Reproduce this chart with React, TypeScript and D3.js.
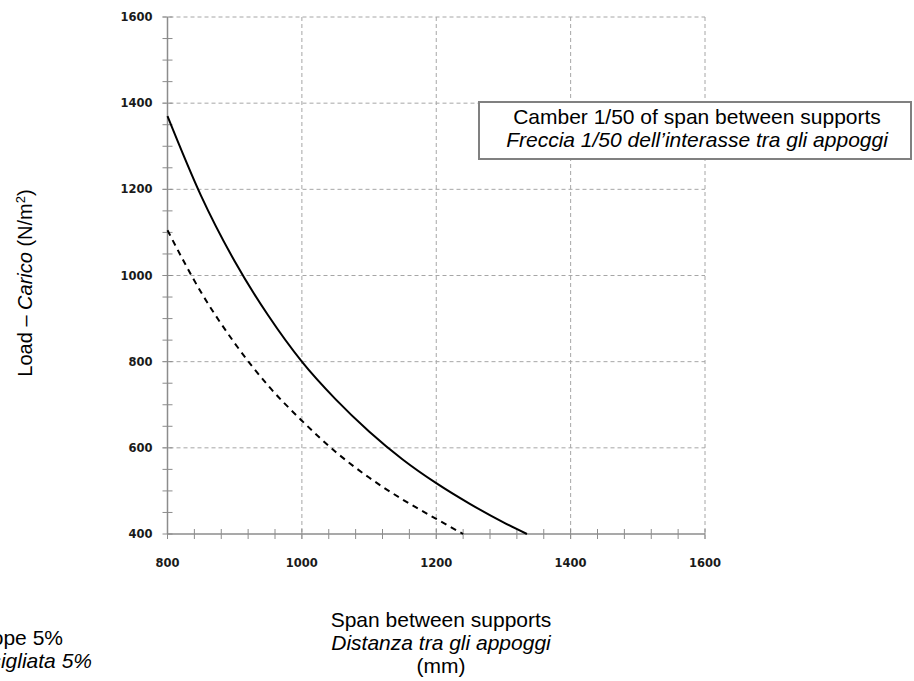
import React from "react";
import * as d3 from "d3";

const spanSolid = [800, 850, 900, 950, 1000, 1050, 1100, 1150, 1200, 1250, 1300, 1335];
const loadSolid = [1370, 1185, 1033, 907, 800, 713, 638, 573, 518, 470, 427, 400];
const spanDashed = [800, 850, 900, 950, 1000, 1050, 1100, 1150, 1200, 1240];
const loadDashed = [1105, 961, 843, 744, 663, 591, 531, 480, 435, 400];

const xMajor = [800, 1000, 1200, 1400, 1600];
const yMajor = [400, 600, 800, 1000, 1200, 1400, 1600];
const xMinorStep = 40;
const yMinorStep = 50;

const boxLine1 = "Camber 1/50 of span between supports";
const boxLine2 = "Freccia 1/50 dell\u2019interasse tra gli appoggi";
const xTitle = ["Span between supports", "Distanza tra gli appoggi", "(mm)"];
const legendLeft = ["Recommended slope 5%", "Pendenza consigliata 5%"];

const W = 914;
const H = 681;
const x0 = 167.5, x1 = 705;
const y0 = 534, y1 = 17;

export default function App() {
  const x = d3.scaleLinear().domain([800, 1600]).range([x0, x1]);
  const y = d3.scaleLinear().domain([400, 1600]).range([y0, y1]);
  const line = d3
    .line<[number, number]>()
    .x((d) => x(d[0]))
    .y((d) => y(d[1]))
    .curve(d3.curveMonotoneX);
  const solid = line(spanSolid.map((s, i) => [s, loadSolid[i]]));
  const dashed = line(spanDashed.map((s, i) => [s, loadDashed[i]]));
  const xMinor = d3.range(800, 1600 + 0.1, xMinorStep);
  const yMinor = d3.range(400, 1600 + 0.1, yMinorStep);
  const font = "'Liberation Sans', Arial, sans-serif";
  const tickFont = "'DejaVu Sans', sans-serif";
  const grid = "#a6a6a6";
  const axis = "#8c8c8c";

  return (
    <svg
      width={W}
      height={H}
      style={{ position: "absolute", left: 0, top: 0, background: "#fff" }}
    >
      {/* grid */}
      {yMajor.filter((v) => v !== 400).map((v) => (
        <line key={"gy" + v} x1={x0 - 5} x2={x1} y1={y(v)} y2={y(v)} stroke={grid} strokeWidth={1} strokeDasharray="4,3" />
      ))}
      {xMajor.filter((v) => v !== 800).map((v) => (
        <line key={"gx" + v} x1={x(v)} x2={x(v)} y1={y1} y2={y0 + 5} stroke={grid} strokeWidth={1} strokeDasharray="4,3" />
      ))}
      {/* axes */}
      <line x1={x0} x2={x0} y1={y1} y2={y0} stroke={axis} strokeWidth={1.5} />
      <line x1={x0} x2={x1} y1={y0} y2={y0} stroke={axis} strokeWidth={1.5} />
      {yMinor.map((v) => (
        <line key={"ty" + v} x1={x0 - 5} x2={x0 + 5} y1={y(v)} y2={y(v)} stroke={axis} strokeWidth={1} />
      ))}
      {xMinor.map((v) => (
        <line key={"tx" + v} x1={x(v)} x2={x(v)} y1={y0 - 5} y2={y0 + 5} stroke={axis} strokeWidth={1} />
      ))}
      {/* tick labels */}
      {yMajor.map((v) => (
        <text key={"ly" + v} x={x0 - 15} y={y(v)} dy="0.36em" textAnchor="end" fontFamily={tickFont} fontWeight="bold" fontSize={11.5} fill="#1a1a1a">
          {v}
        </text>
      ))}
      {xMajor.map((v) => (
        <text key={"lx" + v} x={x(v)} y={y0 + 29} dy="0.36em" textAnchor="middle" fontFamily={tickFont} fontWeight="bold" fontSize={11.5} fill="#1a1a1a">
          {v}
        </text>
      ))}
      {/* curves */}
      <path d={solid || ""} fill="none" stroke="#000" strokeWidth={2} />
      <path d={dashed || ""} fill="none" stroke="#000" strokeWidth={2} strokeDasharray="6,5" />
      {/* box */}
      <rect x={479} y={102} width={432} height={57} fill="#fff" stroke="#808080" strokeWidth={2} />
      <text x={697} y={124} textAnchor="middle" fontFamily={font} fontSize={21} fill="#000">
        {boxLine1}
      </text>
      <text x={697} y={147} textAnchor="middle" fontFamily={font} fontSize={21} fontStyle="italic" fill="#000">
        {boxLine2}
      </text>
      {/* y title */}
      <text transform="translate(32,283) rotate(-90)" textAnchor="middle" fontFamily={font} fontSize={20} fill="#000">
        <tspan>Load – </tspan>
        <tspan fontStyle="italic">Carico</tspan>
        <tspan> (N/m</tspan>
        <tspan fontSize={13} dy={-7}>2</tspan>
        <tspan dy={7}>)</tspan>
      </text>
      {/* x title */}
      {xTitle.map((t, i) => (
        <text key={"xt" + i} x={441} y={627 + i * 23} textAnchor="middle" fontFamily={font} fontSize={21} fontStyle={i === 1 ? "italic" : "normal"} fill="#000">
          {t}
        </text>
      ))}
      {/* legend text cut at the left edge, as in the reference */}
      {legendLeft.map((t, i) => (
        <text key={"ll" + i} x={i === 0 ? 63 : 92} y={645 + i * 23} textAnchor="end" fontFamily={font} fontSize={21} fontStyle={i === 1 ? "italic" : "normal"} fill="#000">
          {t}
        </text>
      ))}
    </svg>
  );
}
